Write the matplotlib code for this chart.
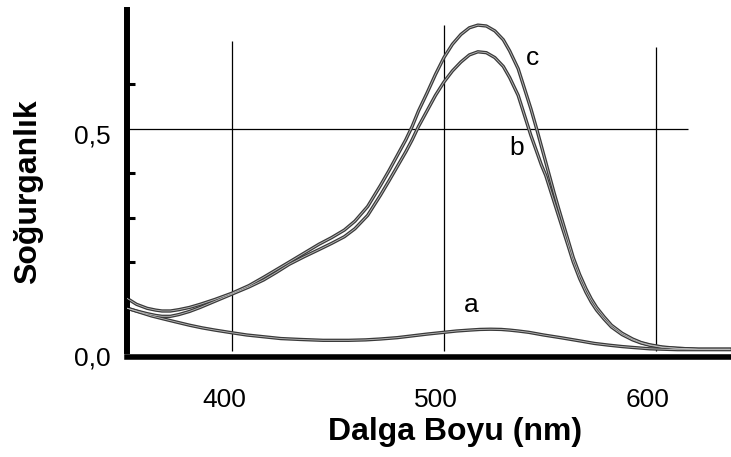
import matplotlib
matplotlib.use('Agg')
import matplotlib.pyplot as plt
import matplotlib.transforms as mtransforms

plt.rcParams['font.family'] = ['Liberation Sans', 'DejaVu Sans']

# wavelength (nm) for curves b and c
wl_bc = [350, 355, 360, 364, 367, 371, 375, 380, 385, 392,
         400, 408, 415, 421, 427, 434, 441, 447, 453, 458,
         464, 470, 474, 478, 482, 485, 488, 492, 496, 500,
         504, 508, 512, 516, 520, 524, 528, 531, 535, 538,
         541, 544, 546, 548, 550, 552, 554, 556, 558.5, 561,
         564, 567, 569.5, 572, 575.5, 579, 584, 589, 593, 597,
         603, 610, 620, 635]
abs_c = [0.120, 0.105, 0.096, 0.092, 0.090, 0.090, 0.093, 0.098, 0.105, 0.116,
         0.130, 0.147, 0.166, 0.183, 0.200, 0.220, 0.240, 0.255, 0.272, 0.292,
         0.325, 0.372, 0.405, 0.440, 0.475, 0.505, 0.540, 0.580, 0.622, 0.660,
         0.690, 0.712, 0.727, 0.733, 0.731, 0.720, 0.700, 0.675, 0.635, 0.590,
         0.545, 0.495, 0.460, 0.425, 0.390, 0.355, 0.322, 0.290, 0.250, 0.210,
         0.172, 0.140, 0.117, 0.098, 0.077, 0.058, 0.040, 0.027, 0.019, 0.014,
         0.009, 0.006, 0.004, 0.004]
abs_b = [0.097, 0.090, 0.084, 0.080, 0.078, 0.078, 0.082, 0.089, 0.098, 0.112,
         0.128, 0.144, 0.160, 0.177, 0.195, 0.212, 0.228, 0.242, 0.257, 0.275,
         0.305, 0.350, 0.382, 0.415, 0.448, 0.475, 0.505, 0.540, 0.575, 0.605,
         0.630, 0.650, 0.666, 0.673, 0.671, 0.660, 0.640, 0.615, 0.575, 0.530,
         0.485, 0.445, 0.418, 0.395, 0.365, 0.335, 0.305, 0.275, 0.238, 0.200,
         0.163, 0.132, 0.110, 0.092, 0.072, 0.054, 0.037, 0.025, 0.018, 0.013,
         0.008, 0.006, 0.004, 0.004]

# curve a
wl_a = [350, 354, 358, 362, 367, 373, 380, 386, 392, 400,
        407, 415, 423, 432, 443, 455, 463, 470, 478, 485,
        492, 500, 506, 512, 517, 522, 527, 531, 535, 540,
        547, 555, 560, 565, 571, 578, 584, 589, 597, 610, 635]
abs_a = [0.097, 0.091, 0.085, 0.079, 0.073, 0.066, 0.058, 0.052, 0.047, 0.041,
         0.036, 0.032, 0.028, 0.026, 0.024, 0.024, 0.025, 0.027, 0.030, 0.034,
         0.038, 0.042, 0.045, 0.047, 0.0485, 0.049, 0.0485, 0.047, 0.045, 0.042,
         0.036, 0.030, 0.026, 0.022, 0.017, 0.013, 0.010, 0.008, 0.005, 0.003, 0.003]

curve_names = ['a', 'b', 'c']
label_pos = [(513, 0.103), (534.4, 0.457), (542, 0.659)]

grid_x = [400, 500, 600]
grid_top = [0.697, 0.733, 0.684]

xticks = [400, 500, 600]
yticks = [0.0, 0.5]
ytick_labels = ['0,0', '0,5']
minor_yticks = [0.2, 0.3, 0.4, 0.6]

fig = plt.figure(figsize=(7.31, 4.57), dpi=100)
ax = fig.add_axes([127 / 731, 100 / 457, 604 / 731, 347 / 457])
ax.set_xlim(350.5, 635.4)
ax.set_ylim(-0.0135, 0.767)

# grid lines like the original
ax.vlines(grid_x, 0, grid_top, color='black', lw=0.9, zorder=1)
ax.hlines(0.5, 350.5, 615, color='black', lw=0.9, zorder=1)

for wl, vals in [(wl_a, abs_a), (wl_bc, abs_b), (wl_bc, abs_c)]:
    ax.plot(wl, vals, color='#3a3a3a', lw=2.4, zorder=2, solid_joinstyle='round')
    ax.plot(wl, vals, color='#bdbdbd', lw=0.6, zorder=3, solid_joinstyle='round')

for name, (x, y) in zip(curve_names, label_pos):
    ax.text(x, y, name, fontsize=19, ha='center', va='center')

for s in ['top', 'right']:
    ax.spines[s].set_visible(False)
ax.spines['left'].set_linewidth(4.3)
ax.spines['left'].set_bounds(0, 0.767)
ax.spines['bottom'].set_linewidth(4.0)

ax.set_xticks(xticks)
ax.set_xticklabels([str(t) for t in xticks], fontsize=19)
ax.tick_params(axis='x', length=0, pad=22)
ax.set_yticks(yticks)
ax.set_yticklabels(ytick_labels, fontsize=19)
ax.tick_params(axis='y', which='major', length=0, pad=12)
ax.set_yticks(minor_yticks, minor=True)
ax.tick_params(axis='y', which='minor', direction='in', length=6, width=2.2)

dx = mtransforms.ScaledTranslation(-8 / 100, 0, fig.dpi_scale_trans)
for lab in ax.get_xticklabels():
    lab.set_transform(lab.get_transform() + dx)
dy = mtransforms.ScaledTranslation(0, -5 / 100, fig.dpi_scale_trans)
for lab in ax.get_yticklabels():
    lab.set_transform(lab.get_transform() + dy)

fig.text(455 / 731, 1 - 432 / 457, 'Dalga Boyu (nm)', fontsize=23,
         fontweight='bold', ha='center', va='center')
fig.text(28.5 / 731, 1 - 191.5 / 457, 'Soğurganlık', fontsize=23,
         fontweight='bold', ha='center', va='center', rotation=90)

fig.savefig('out.png', dpi=100)
